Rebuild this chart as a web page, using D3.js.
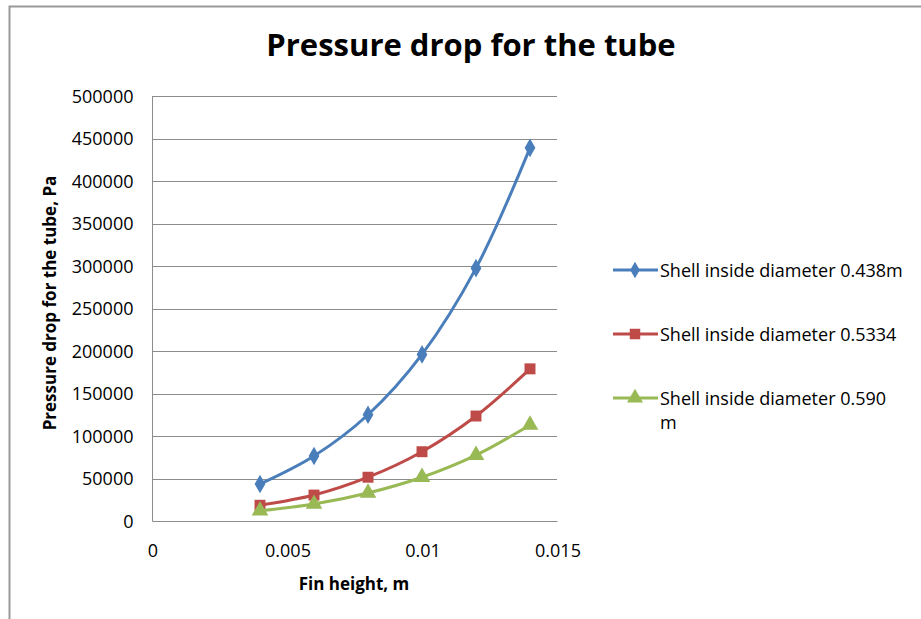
<!DOCTYPE html>
<html lang="en">
<head>
    <meta charset="UTF-8">
    <title>Pressure drop for the tube</title>
    <style>
        body { margin: 0; background: #fff; }
        svg { font-family: "Open Sans", Lato, sans-serif; }
        .grid line { stroke: #8c8c8c; stroke-width: 1; }
        .axis path, .axis line { stroke: #8c8c8c; }
        .axis text { font-size: 18px; fill: #000; font-family: "Open Sans", sans-serif; }
        .series { fill: none; stroke-width: 3; }
    </style>
</head>
<body>
    <svg width="921" height="619"></svg>
    <script src="https://d3js.org/d3.v7.min.js"></script>
    <script>
        // x values (fin height, m)
        const finHeight = [0.004, 0.006, 0.008, 0.010, 0.012, 0.014];

        // pressure drop, Pa
        const dp438 = [43500, 76500, 125000, 196000, 297500, 439000];
        const dp5334 = [18500, 30500, 51500, 81500, 123500, 179000];
        const dp590 = [12000, 20000, 33000, 51500, 77500, 113000];

        const seriesNames = [
            "Shell inside diameter 0.438m",
            "Shell inside diameter 0.5334",
            "Shell inside diameter 0.590 m"
        ];
        const seriesColors = ["#4a7ebb", "#be4b48", "#98b954"];
        const yTicks = d3.range(0, 500001, 50000);
        const xTicks = [0, 0.005, 0.01, 0.015];

        const series = [dp438, dp5334, dp590].map((vals, i) => ({
            name: seriesNames[i],
            color: seriesColors[i],
            symbol: [d3.symbolDiamond, d3.symbolSquare, d3.symbolTriangle][i],
            points: finHeight.map((x, j) => ({ x: x, y: vals[j] }))
        }));

        const svg = d3.select("svg");

        // chart border
        svg.append("rect")
            .attr("x", 9.5).attr("y", 6.5)
            .attr("width", 1000).attr("height", 1000)
            .attr("fill", "none").attr("stroke", "#999").attr("stroke-width", 2);

        const plotLeft = 152, plotRight = 557, plotTop = 96, plotBottom = 521;
        const x = d3.scaleLinear().domain([0, 0.015]).range([plotLeft, plotRight]);
        const y = d3.scaleLinear().domain([0, 500000]).range([plotBottom, plotTop]);

        // gridlines
        svg.append("g").attr("class", "grid")
            .selectAll("line")
            .data(yTicks.slice(1))
            .enter().append("line")
            .attr("x1", plotLeft).attr("x2", plotRight)
            .attr("y1", d => Math.round(y(d)) + 0.5)
            .attr("y2", d => Math.round(y(d)) + 0.5);

        // y axis
        const yAxis = svg.append("g").attr("class", "axis")
            .attr("transform", `translate(${plotLeft + 0.5},0.5)`)
            .call(d3.axisLeft(y).tickValues(yTicks).tickSize(0).tickPadding(19).tickFormat(d3.format("d")));
        yAxis.select(".domain").attr("d", `M0,${plotTop}V${plotBottom}`);

        // x axis
        const xAxis = svg.append("g").attr("class", "axis")
            .attr("transform", `translate(0.5,${plotBottom + 0.5})`)
            .call(d3.axisBottom(x).tickValues(xTicks).tickSize(0).tickPadding(23).tickFormat(d => d === 0 ? "0" : String(d)));
        xAxis.select(".domain").attr("d", `M${plotLeft},0H${plotRight}`);

        // lines
        const line = d3.line()
            .x(d => x(d.x)).y(d => y(d.y))
            .curve(d3.curveCatmullRom.alpha(0.5));

        series.forEach(s => {
            svg.append("path")
                .attr("class", "series")
                .attr("d", line(s.points))
                .attr("stroke", s.color);
            svg.append("g").selectAll("path")
                .data(s.points)
                .enter().append("path")
                .attr("transform", d => `translate(${x(d.x)},${y(d.y)})`)
                .attr("d", d3.symbol().type(s.symbol).size(s.symbol === d3.symbolDiamond ? 100 : 120))
                .attr("fill", s.color);
        });

        // title
        svg.append("text")
            .attr("x", 471).attr("y", 56)
            .attr("text-anchor", "middle")
            .attr("font-size", 31).attr("font-weight", "bold")
            .text("Pressure drop for the tube");

        // axis titles
        svg.append("text")
            .attr("x", 354).attr("y", 590)
            .attr("text-anchor", "middle")
            .attr("font-size", 17).attr("font-weight", "bold")
            .text("Fin height, m");

        svg.append("text")
            .attr("transform", "translate(56,303) rotate(-90)")
            .attr("text-anchor", "middle")
            .attr("font-size", 17).attr("font-weight", "bold")
            .text("Pressure drop for the tube, Pa");

        // legend
        const legend = svg.append("g").attr("transform", "translate(613,270)");
        series.forEach((s, i) => {
            const g = legend.append("g").attr("transform", `translate(0,${i * 64})`);
            g.append("line")
                .attr("x1", 0).attr("x2", 45)
                .attr("stroke", s.color).attr("stroke-width", 3);
            g.append("path")
                .attr("transform", "translate(22,0)")
                .attr("d", d3.symbol().type(s.symbol).size(s.symbol === d3.symbolDiamond ? 80 : 110))
                .attr("fill", s.color);
            const t = g.append("text")
                .attr("x", 47).attr("y", 7)
                .attr("font-size", 18);
            // wrap text to the legend width
            const words = s.name.split(" ");
            let tspan = t.append("tspan").attr("x", 47).attr("dy", 0);
            let cur = [];
            words.forEach(w => {
                cur.push(w);
                tspan.text(cur.join(" "));
                if (tspan.node().getComputedTextLength() > 245 && cur.length > 1) {
                    cur.pop();
                    tspan.text(cur.join(" "));
                    cur = [w];
                    tspan = t.append("tspan").attr("x", 47).attr("dy", 24).text(w);
                }
            });
        });
    </script>
</body>
</html>
